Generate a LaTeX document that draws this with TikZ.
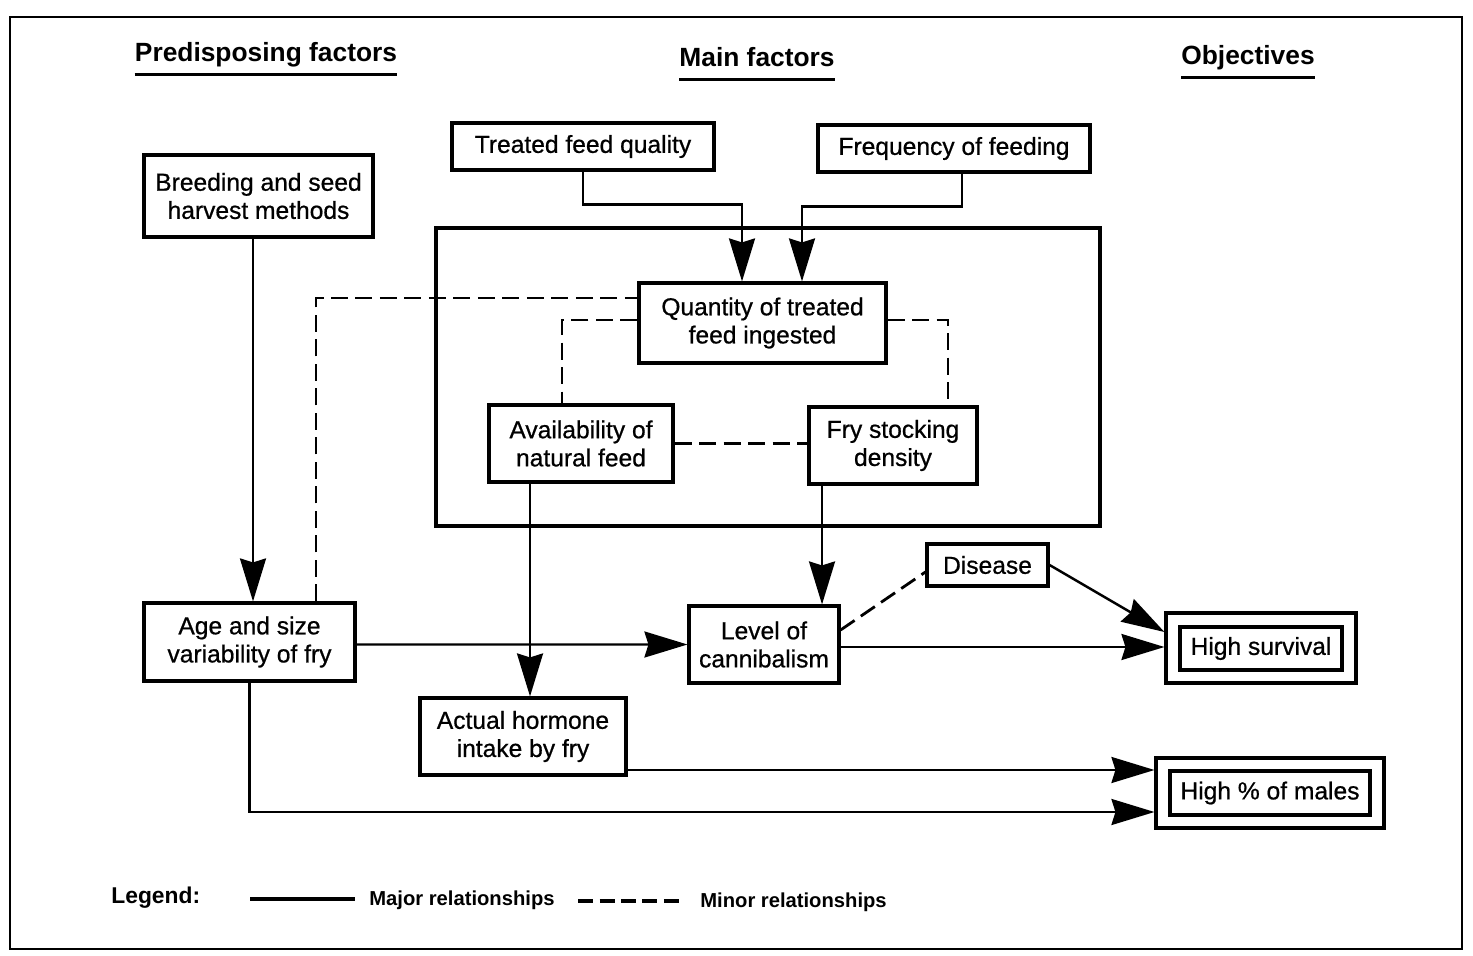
\documentclass[tikz,border=0pt]{standalone}
\usepackage{fontspec}
\setmainfont{Liberation Sans}
\newfontfamily\boxfont{Liberation Sans}[FakeBold=0.7]
\usetikzlibrary{arrows.meta}
\begin{document}
\begin{tikzpicture}[x=0.02cm,y=-0.02cm,
 box/.style={draw,line width=1.8pt,align=center,inner sep=0pt,font=\boxfont\fontsize{14}{16}\selectfont},
 hdr/.style={font=\fontsize{15}{18}\selectfont\bfseries,inner sep=0pt,anchor=base},
 uline/.style={line width=1.7pt},
 conn/.style={line width=1.4pt},
 arr/.style={conn,-{Stealth[length=0.86cm,width=0.52cm,inset=0.08cm]}},
 minor/.style={line width=1.6pt,dash pattern=on 0.34cm off 0.15cm},
 legtxt/.style={font=\fontsize{11.5}{14}\selectfont\bfseries,inner sep=0pt,anchor=base west}]
\useasboundingbox (0,0) rectangle (1473,956);
\draw[line width=1.3pt] (10,17) rectangle (1462,949);

% headers
\node[hdr] (h1) at (266,62) {Predisposing factors};
\node[hdr] (h2) at (757,67) {Main factors};
\node[hdr] (h3) at (1248,65) {Objectives};
\foreach \h in {h1,h2,h3}
  \draw[uline] ([yshift=-0.25cm]\h.base west) -- ([yshift=-0.25cm]\h.base east);

% group rectangle
\draw[line width=1.8pt] (436,228) rectangle (1100,526);

% boxes
\node[box,minimum width=5.24cm,minimum height=0.94cm] (tfq) at (583,146.5) {Treated feed quality};
\node[box,minimum width=5.44cm,minimum height=0.94cm] (fof) at (954,148.5) {Frequency of feeding};
\node[box,minimum width=4.58cm,minimum height=1.64cm] (bsh) at (258.5,196) {Breeding and seed\\harvest methods};
\node[box,minimum width=4.94cm,minimum height=1.6cm] (qty) at (762.5,323) {Quantity of treated\\feed ingested};
\node[box,minimum width=3.68cm,minimum height=1.54cm] (avail) at (581,443.5) {Availability of\\natural feed};
\node[box,minimum width=3.36cm,minimum height=1.54cm] (fry) at (893,445.5) {Fry stocking\\density};
\node[box,minimum width=2.42cm,minimum height=0.84cm] (dis) at (987.5,565) {Disease};
\node[box,minimum width=4.22cm,minimum height=1.56cm] (age) at (249.5,642) {Age and size\\variability of fry};
\node[box,minimum width=3.0cm,minimum height=1.54cm] (lvl) at (764,644.5) {Level of\\cannibalism};
\node[box,minimum width=4.12cm,minimum height=1.54cm] (act) at (523,736.5) {Actual hormone\\intake by fry};
\node[box,minimum width=3.8cm,minimum height=1.4cm] (hso) at (1261,648) {};
\node[box,minimum width=3.24cm,minimum height=0.86cm] (hsi) at (1261,648.5) {High survival};
\node[box,minimum width=4.56cm,minimum height=1.4cm] (hmo) at (1270,793) {};
\node[box,minimum width=4.0cm,minimum height=0.88cm] (hmi) at (1270,793) {High \% of males};

% major connectors
\draw[arr] (tfq.south) -- ++(0cm,-0.66cm) -| ([xshift=-0.41cm]qty.north);
\draw[arr] ([xshift=0.16cm]fof.south) -- ++(0cm,-0.66cm) -| ([xshift=0.79cm]qty.north);
\draw[arr] ([xshift=0.07cm]age.north |- bsh.south) -- ([xshift=0.07cm]age.north);
\draw[arr] ([xshift=-1.02cm]avail.south) -- ([xshift=-1.02cm]avail.south |- act.north);
\draw[arr] ([xshift=-1.42cm]fry.south) -- ([xshift=-1.42cm]fry.south |- lvl.north);
\draw[arr] ([yshift=-0.05cm]age.east) -- (lvl.west);
\draw[arr] (dis.east) -- ([yshift=0.32cm]hso.west);
\draw[arr] ([yshift=-0.05cm]lvl.east) -- ([yshift=-0.05cm]lvl.east -| hso.west);
\draw[arr] ([yshift=-0.67cm]act.east) -- ([yshift=-0.67cm]act.east -| hmo.west);
\draw[arr] (age.south) |- ([yshift=-0.38cm]hmo.west);

% minor connectors
\draw[minor] ([xshift=1.33cm]age.north) |- ([yshift=0.5cm]qty.west);
\draw[minor] ([yshift=0.06cm]qty.west) -| ([xshift=-0.38cm]avail.north);
\draw[minor] ([yshift=0.06cm]qty.east) -| ([xshift=1.1cm]fry.north);
\draw[minor] (avail.east) -- (avail.east -| fry.west);
\draw[minor] ([yshift=0.29cm]lvl.east) -- ([yshift=-0.14cm]dis.west);

% legend
\node[legtxt,font=\fontsize{13}{15}\selectfont\bfseries] (leg) at (111,903) {Legend:};
\coordinate (ma1) at (250,899); \coordinate (ma2) at (355,899);
\draw[line width=1.9pt] (ma1) -- (ma2);
\node[legtxt] (maj) at (369,905) {Major relationships};
\coordinate (mi1) at (578,901); \coordinate (mi2) at (680,901);
\draw[line width=1.9pt,dash pattern=on 0.3cm off 0.13cm] (mi1) -- (mi2);
\node[legtxt] (mnr) at (700,907) {Minor relationships};
\end{tikzpicture}
\end{document}
